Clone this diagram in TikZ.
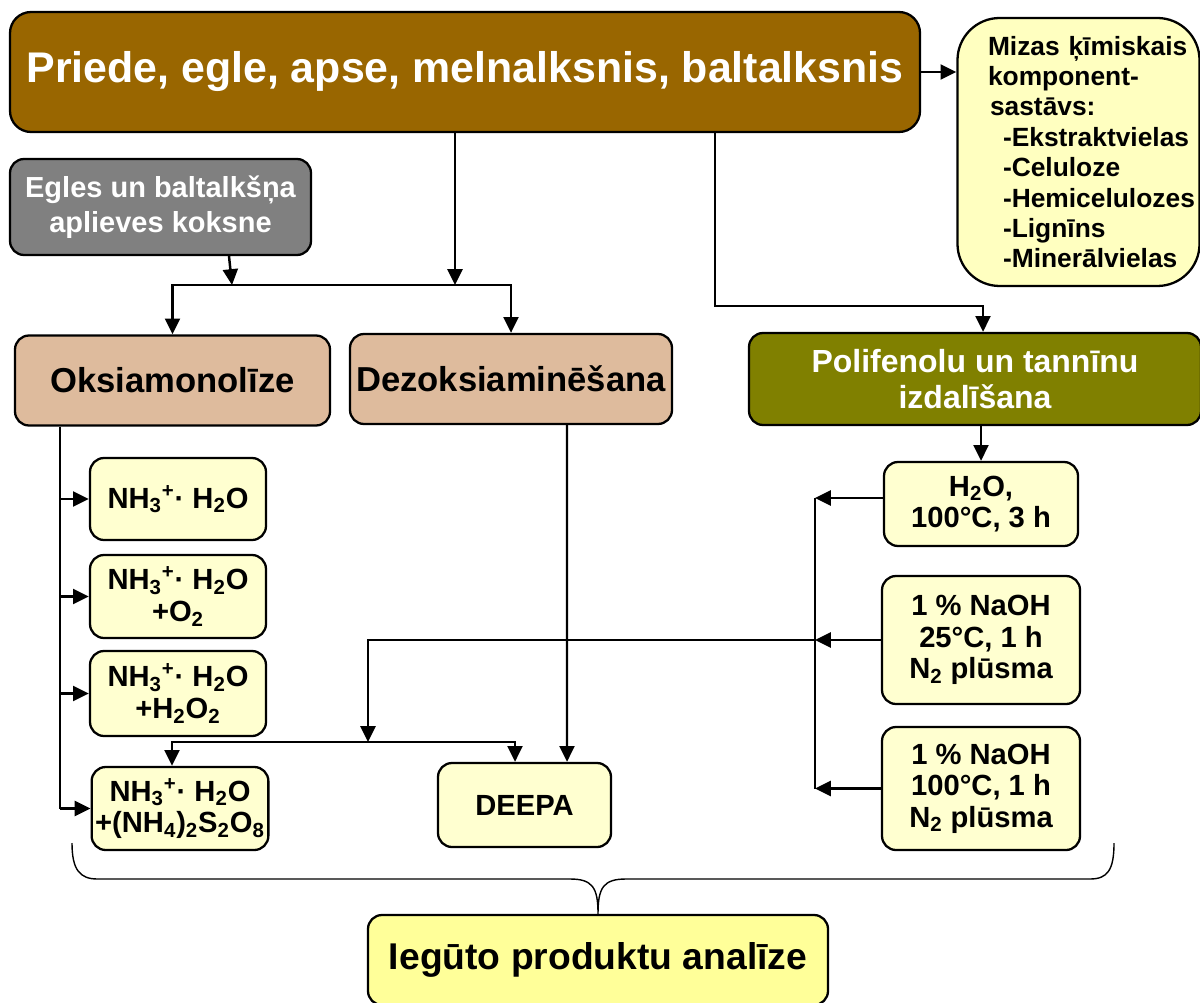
\documentclass[tikz,border=0pt]{standalone}
\usepackage{fontspec}
\setmainfont{Liberation Sans}
\usetikzlibrary{arrows.meta,positioning,calc}
\definecolor{titlebrown}{RGB}{153,102,0}
\definecolor{barkyellow}{RGB}{255,255,192}
\definecolor{paleyellow}{RGB}{255,255,208}
\definecolor{woodgray}{RGB}{128,128,128}
\definecolor{tan}{RGB}{222,187,157}
\definecolor{olive}{RGB}{128,128,0}
\definecolor{resultyellow}{RGB}{255,255,153}

\begin{document}
\begin{tikzpicture}[
    box/.style={draw, rounded corners=8pt, line width=1.3pt, align=center, inner sep=2pt},
    reag/.style={box, fill=paleyellow, font=\fontsize{16.6}{18}\selectfont\bfseries},
    method/.style={box, fill=tan, minimum height=1.8cm, font=\fontsize{19.7}{22}\selectfont\bfseries},
    arr/.style={-{Triangle[length=9pt,width=8.5pt]}, line width=1.4pt},
    link/.style={line width=1.4pt},
    brace/.style={line width=0.8pt}
]
\useasboundingbox (0,0) rectangle (24,-20.04);

\node[box, fill=titlebrown, text=white, minimum width=18.2cm, minimum height=2.4cm, rounded corners=12pt, font=\fontsize{24.4}{28}\selectfont\bfseries] (title) at (9.3,-1.44) {Priede, egle, apse, melnalksnis, baltalksnis};
\node[box, fill=barkyellow, minimum width=4.82cm, minimum height=5.36cm, rounded corners=24pt, text width=4.7cm, align=left, font=\fontsize{15}{17.3}\selectfont\bfseries] (bark) at (21.57,-3.04) {\hspace*{0.54cm}Mizas ķīmiskais\\\hspace*{0.54cm}komponent-\\\hspace*{0.58cm}sastāvs:\\\hspace*{0.84cm}\mbox{-Ekstraktvielas}\\\hspace*{0.84cm}\mbox{-Celuloze}\\\hspace*{0.84cm}\mbox{-Hemicelulozes}\\\hspace*{0.84cm}\mbox{-Lignīns}\\\hspace*{0.84cm}\mbox{-Minerālvielas}};
\node[box, fill=woodgray, text=white, minimum width=6.02cm, minimum height=1.92cm, font=\fontsize{16.5}{20}\selectfont\bfseries] (egles) at (3.21,-4.14) {Egles un baltalkšņa\\aplieves koksne};

\node[method, minimum width=6.3cm] (oksi) at (3.45,-7.61) {Oksiamonolīze};
\node[method, minimum width=6.44cm] (dezo) at (10.22,-7.58) {Dezoksiaminēšana};
\node[box, fill=olive, text=white, minimum width=9.04cm, minimum height=1.84cm, font=\fontsize{18.2}{20.5}\selectfont\bfseries] (poli) at (19.5,-7.58) {Polifenolu un tannīnu\\izdalīšana};

\node[reag, minimum width=3.52cm, minimum height=1.64cm] (nhA) at (3.56,-9.98) {NH\textsubscript{3}\textsuperscript{+}· H\textsubscript{2}O};
\node[reag, minimum width=3.52cm, minimum height=1.66cm] (nhB) at (3.56,-11.93) {NH\textsubscript{3}\textsuperscript{+}· H\textsubscript{2}O\\+O\textsubscript{2}};
\node[reag, minimum width=3.52cm, minimum height=1.70cm] (nhC) at (3.56,-13.87) {NH\textsubscript{3}\textsuperscript{+}· H\textsubscript{2}O\\+H\textsubscript{2}O\textsubscript{2}};
\node[reag, minimum width=3.52cm, minimum height=1.66cm] (nhD) at (3.60,-16.17) {NH\textsubscript{3}\textsuperscript{+}· H\textsubscript{2}O\\+(NH\textsubscript{4})\textsubscript{2}S\textsubscript{2}O\textsubscript{8}};
\node[reag, minimum width=3.46cm, minimum height=1.68cm] (deepa) at (10.49,-16.10) {DEEPA};

\node[reag, minimum width=3.88cm, minimum height=1.68cm] (h2o) at (19.62,-10.08) {H\textsubscript{2}O,\\100°C, 3 h};
\node[reag, minimum width=3.96cm, minimum height=2.56cm] (naohA) at (19.62,-12.80) {1 \% NaOH\\25°C, 1 h\\N\textsubscript{2} plūsma};
\node[reag, minimum width=3.96cm, minimum height=2.46cm] (naohB) at (19.62,-15.77) {1 \% NaOH\\100°C, 1 h\\N\textsubscript{2} plūsma};

\node[box, fill=resultyellow, minimum width=9.2cm, minimum height=1.8cm, font=\fontsize{21.2}{26}\selectfont\bfseries] (result) at (11.96,-19.20) {Iegūto produktu analīze};

% from the wood species
\draw[arr] (title.east) -- (title.east -| bark.west);
\coordinate (busA) at (9.10,-5.70);
\coordinate (eglesIn) at (4.64,-5.70);
\draw[arr] (title.south -| busA) -- (busA);
\draw[arr] ([xshift=1.37cm]egles.south) -- (eglesIn);
\draw[arr] (busA) -| (oksi.north);
\draw[arr] (busA) -| (dezo.north);
\coordinate (poliBend) at (14.30,-6.12);
\draw[arr] (title.south -| poliBend) -- (poliBend) -| ([xshift=0.16cm]poli.north);
\draw[arr] (poli.south -| h2o.north) -- (h2o.north);

% extraction residues
\coordinate (colR) at (16.30,-9.96);
\draw[link] (colR) -- (naohB.west -| colR);
\draw[arr] ([yshift=0.12cm]h2o.west) -- (colR);
\draw[arr] (naohA.west) -- (naohA.west -| colR);
\draw[arr] (naohB.west) -- (naohB.west -| colR);
\coordinate (busB) at (7.36,-14.84);
\draw[arr] (naohA.west -| colR) -| (busB);
\draw[arr] (busB) -| ([xshift=-0.16cm]nhD.north);
\draw[arr] (busB) -| ([xshift=-0.19cm]deepa.north);
\draw[arr] ([xshift=1.12cm]dezo.south) -- ([xshift=0.85cm]deepa.north);

% oxyammonolysis variants
\coordinate (colL) at (1.20,-8.50);
\draw[link] (oksi.south -| colL) -- (nhD.west -| colL);
\draw[arr] (nhA.west -| colL) -- (nhA.west);
\draw[arr] (nhB.west -| colL) -- (nhB.west);
\draw[arr] (nhC.west -| colL) -- (nhC.west);
\draw[arr] (nhD.west -| colL) -- (nhD.west);

% brace to the analysis
\coordinate (braceL) at (1.44,-16.86);
\coordinate (braceR) at (22.28,-16.86);
\draw[brace] (braceL) .. controls (1.44,-17.40) and (1.60,-17.58) .. (1.95,-17.58) -- (11.40,-17.58) .. controls (11.85,-17.58) and (11.96,-17.75) .. (result.north) .. controls (11.96,-17.75) and (12.07,-17.58) .. (12.52,-17.58) -- (21.80,-17.58) .. controls (22.15,-17.58) and (22.28,-17.40) .. (braceR);
\end{tikzpicture}
\end{document}
